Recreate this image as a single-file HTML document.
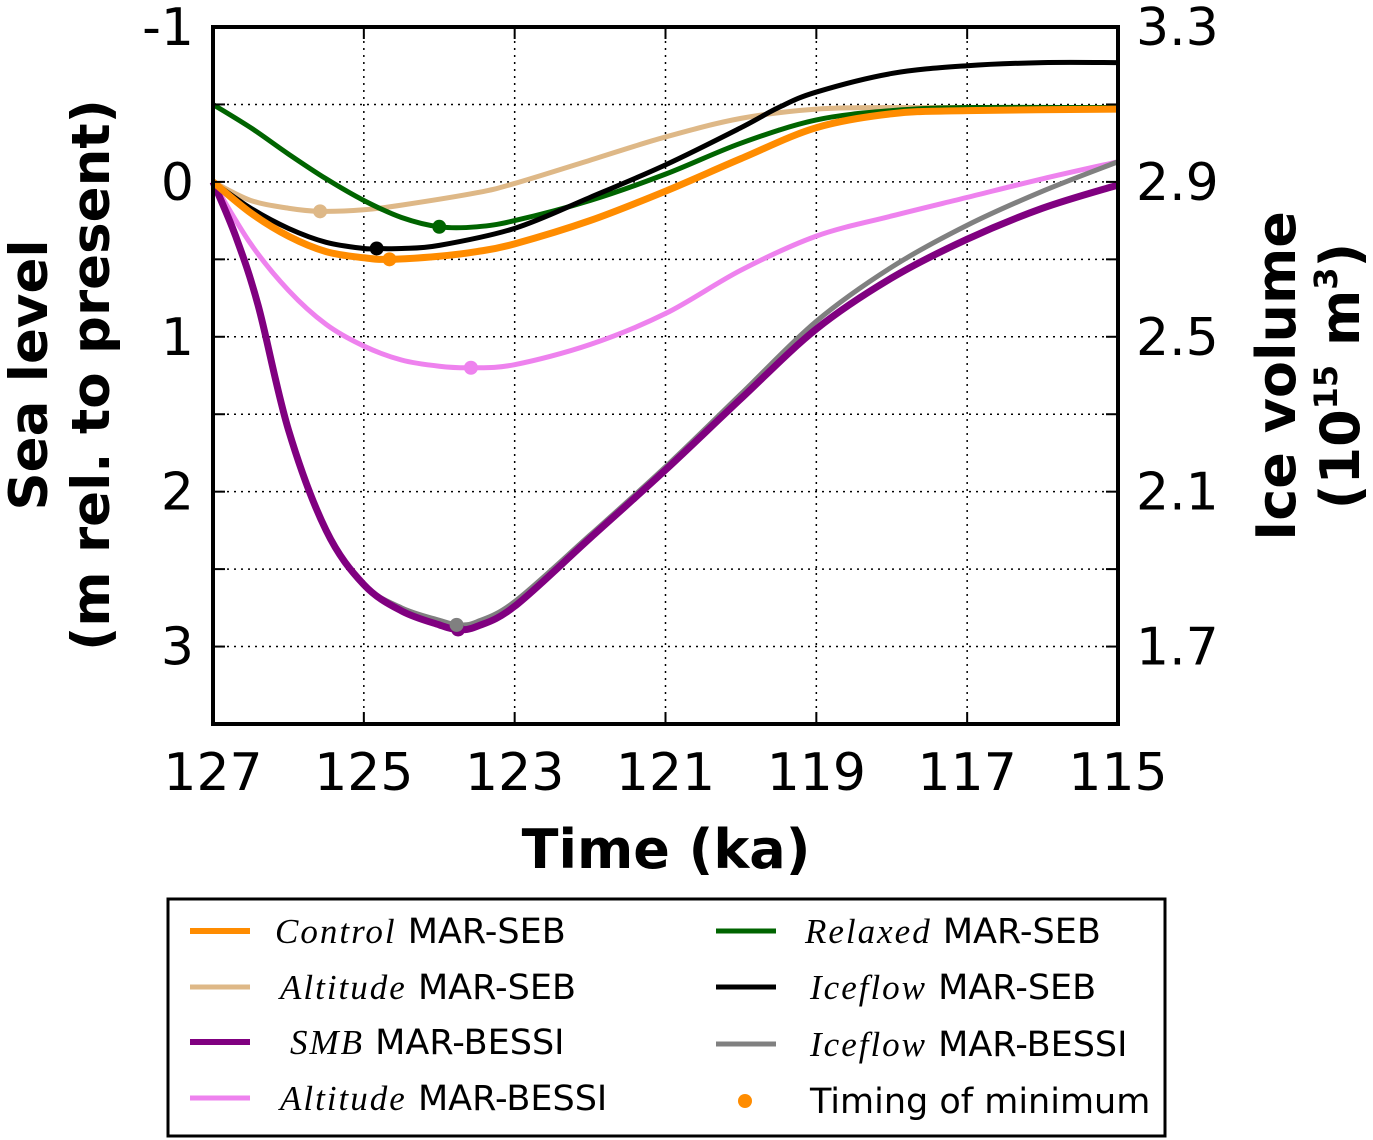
<!DOCTYPE html>
<html><head><meta charset="utf-8"><style>
body{margin:0;background:#fff;}
svg{display:block;font-family:"DejaVu Sans","Liberation Sans",sans-serif;}
</style></head><body>
<svg id="chart" width="1373" height="1140"></svg>
<script>
const timeTicks=[127,125,123,121,119,117,115];
const seaTicks=[-1,0,1,2,3];
const iceTicks=["3.3","2.9","2.5","2.1","1.7"];
const tControl=[127,126.5,126,125.5,125,124.66,124,123.5,123,122,121,120,119,118,117,115];
const vControl=[0,0.2,0.35,0.45,0.49,0.5,0.48,0.45,0.4,0.25,0.06,-0.15,-0.35,-0.44,-0.46,-0.47];
const tAltSeb=[127,126.5,126,125.58,125,124.5,123.5,123,122,121,120,119,118,117,115];
const vAltSeb=[0,0.12,0.17,0.19,0.18,0.15,0.07,0.01,-0.14,-0.29,-0.41,-0.47,-0.48,-0.48,-0.48];
const tSmb=[127,126.7,126.4,126,125.5,125,124.5,124,123.75,123.5,123,122,121,120,119,118,117,116,115];
const vSmb=[0,0.35,0.8,1.6,2.25,2.6,2.77,2.86,2.89,2.87,2.74,2.3,1.86,1.4,0.95,0.62,0.37,0.17,0.02];
const tIceBessi=[127,126.7,126.4,126,125.5,125,124.5,124,123.75,123.5,123,122,121,120,119,118,117,116,115];
const vIceBessi=[0,0.35,0.8,1.6,2.25,2.6,2.75,2.83,2.86,2.84,2.71,2.28,1.84,1.37,0.9,0.55,0.28,0.06,-0.13];
const tAltBessi=[127,126.5,126,125.5,125,124.5,124,123.58,123,122,121,120,119,118,117,116,115];
const vAltBessi=[0,0.4,0.7,0.92,1.06,1.15,1.19,1.2,1.18,1.05,0.85,0.57,0.35,0.22,0.1,-0.02,-0.13];
const tRelax=[127,126.5,126,125.5,125,124.5,124,123.5,123,122,121,120,119,118,117,115];
const vRelax=[-0.5,-0.35,-0.18,-0.02,0.12,0.23,0.29,0.29,0.25,0.12,-0.05,-0.25,-0.4,-0.46,-0.48,-0.48];
const tIceSeb=[127,126.5,126,125.5,125,124.83,124.5,124,123,122,121,120,119.5,119,118,117,116,115];
const vIceSeb=[0,0.17,0.3,0.39,0.43,0.43,0.43,0.41,0.3,0.1,-0.11,-0.35,-0.48,-0.58,-0.7,-0.75,-0.77,-0.77];
const minT=[124.66,125.58,123.75,123.58,124.0,124.83,123.77];
const minV=[0.5,0.19,2.89,1.2,0.29,0.43,2.86];

const X0=213,X1=1118,Y0=27,Y1=724;
const xs=t=>X0+(127-t)/(127-115)*(X1-X0);
const ys=v=>Y0+(v+1)/4.5*(Y1-Y0);
const svg=document.getElementById('chart');
const NS='http://www.w3.org/2000/svg';
function mk(tag,attrs,parent){const e=document.createElementNS(NS,tag);for(const k in attrs)e.setAttribute(k,attrs[k]);(parent||svg).appendChild(e);return e;}
function path(ts,vs){const p=ts.map((t,i)=>[xs(t),ys(vs[i])]);let d='M'+p[0][0]+','+p[0][1];
for(let i=0;i<p.length-1;i++){const a=p[i-1]||p[i],b=p[i],c=p[i+1],e=p[i+2]||c;
d+=' C'+(b[0]+(c[0]-a[0])/6)+','+(b[1]+(c[1]-a[1])/6)+' '+(c[0]-(e[0]-b[0])/6)+','+(c[1]-(e[1]-b[1])/6)+' '+c[0]+','+c[1];}return d;}
timeTicks.forEach(t=>{if(t!==127&&t!==115){const g=mk('line',{x1:xs(t),x2:xs(t),y1:Y0,y2:Y1,stroke:'#000','stroke-width':1.5,'stroke-dasharray':'2,5'});
}});
[-0.5,0,0.5,1,1.5,2,2.5,3].forEach(v=>{const g=mk('line',{x1:X0,x2:X1,y1:ys(v),y2:ys(v),stroke:'#000','stroke-width':1.5,'stroke-dasharray':'2,5'});
});
const series=[
['altitude-mar-bessi',tAltBessi,vAltBessi,'#ee82ee',5],
['iceflow-mar-bessi',tIceBessi,vIceBessi,'#808080',5],
['smb-mar-bessi',tSmb,vSmb,'#800080',7],
['altitude-mar-seb',tAltSeb,vAltSeb,'#deb887',5],
['relaxed-mar-seb',tRelax,vRelax,'#006400',5],
['iceflow-mar-seb',tIceSeb,vIceSeb,'#000',5],
['control-mar-seb',tControl,vControl,'#ff8c00',7]];
series.forEach(s=>{const e=mk('path',{d:path(s[1],s[2]),fill:'none',stroke:s[3],'stroke-width':s[4]});
});
const minCol=['#ff8c00','#deb887','#800080','#ee82ee','#006400','#000','#808080'];
minT.forEach((t,i)=>{const c=mk('circle',{cx:xs(t),cy:ys(minV[i]),r:7,fill:minCol[i]});
});
const fr=mk('rect',{x:X0,y:Y0,width:X1-X0,height:Y1-Y0,fill:'none',stroke:'#000','stroke-width':4});

timeTicks.forEach(t=>{mk('line',{x1:xs(t),x2:xs(t),y1:Y1,y2:Y1-12,stroke:'#000','stroke-width':2});mk('line',{x1:xs(t),x2:xs(t),y1:Y0,y2:Y0+12,stroke:'#000','stroke-width':2});
const l=mk('text',{x:xs(t),y:790,'text-anchor':'middle','font-size':52});l.textContent=t;
});
[-0.5,0,0.5,1,1.5,2,2.5,3].forEach(v=>{mk('line',{x1:X0,x2:X0+12,y1:ys(v),y2:ys(v),stroke:'#000','stroke-width':2});mk('line',{x1:X1,x2:X1-12,y1:ys(v),y2:ys(v),stroke:'#000','stroke-width':2});});
seaTicks.forEach(v=>{const l=mk('text',{x:194,y:ys(v)+18,'text-anchor':'end','font-size':52});l.textContent=v;
});
iceTicks.forEach((s,i)=>{const l=mk('text',{x:1136,y:ys(seaTicks[i])+18,'font-size':52});l.textContent=s;
});
</script>
<svg width="1373" height="1140" style="position:absolute;left:0;top:0">
<text x="666" y="868" text-anchor="middle" font-size="54" font-weight="bold" font-family="DejaVu Sans,sans-serif">Time (ka)</text>
<g transform="translate(47,375) rotate(-90)" font-family="DejaVu Sans,sans-serif" font-size="53" font-weight="bold">
<text x="0" y="0" text-anchor="middle">Sea level</text><text x="0" y="62" text-anchor="middle">(m rel. to present)</text></g>
<g transform="translate(1295,376) rotate(-90)" font-family="DejaVu Sans,sans-serif" font-size="54" font-weight="bold">
<text x="0" y="0" text-anchor="middle">Ice volume</text><text x="0" y="64" text-anchor="middle">(10<tspan font-size="32" dy="-22">15</tspan><tspan dy="22"> m</tspan><tspan font-size="32" dy="-22">3</tspan><tspan dy="22">)</tspan></text></g>
<g font-family="DejaVu Sans,sans-serif" font-size="35">
<rect x="168" y="899" width="997" height="237" fill="#fff" stroke="#000" stroke-width="3"/>
<line x1="190" x2="250" y1="931" y2="931" stroke="#ff8c00" stroke-width="6"/><text x="275" y="943"><tspan font-family="Liberation Serif,serif" font-style="italic" letter-spacing="2">Control</tspan> MAR-SEB</text>
<line x1="190" x2="250" y1="987" y2="987" stroke="#deb887" stroke-width="5"/><text x="280" y="999"><tspan font-family="Liberation Serif,serif" font-style="italic" letter-spacing="2">Altitude</tspan> MAR-SEB</text>
<line x1="190" x2="250" y1="1042" y2="1042" stroke="#800080" stroke-width="6"/><text x="290" y="1054"><tspan font-family="Liberation Serif,serif" font-style="italic" letter-spacing="2">SMB</tspan> MAR-BESSI</text>
<line x1="190" x2="250" y1="1098" y2="1098" stroke="#ee82ee" stroke-width="5"/><text x="280" y="1110"><tspan font-family="Liberation Serif,serif" font-style="italic" letter-spacing="2">Altitude</tspan> MAR-BESSI</text>
<line x1="716" x2="776" y1="931" y2="931" stroke="#006400" stroke-width="5"/><text x="805" y="943"><tspan font-family="Liberation Serif,serif" font-style="italic" letter-spacing="2">Relaxed</tspan> MAR-SEB</text>
<line x1="716" x2="776" y1="987" y2="987" stroke="#000" stroke-width="5"/><text x="810" y="999"><tspan font-family="Liberation Serif,serif" font-style="italic" letter-spacing="2">Iceflow</tspan> MAR-SEB</text>
<line x1="716" x2="776" y1="1044" y2="1044" stroke="#808080" stroke-width="5"/><text x="810" y="1056"><tspan font-family="Liberation Serif,serif" font-style="italic" letter-spacing="2">Iceflow</tspan> MAR-BESSI</text>
<circle cx="745" cy="1101" r="7" fill="#ff8c00"/><text x="810" y="1113">Timing of minimum</text>
</g>
</svg>
</body></html>
